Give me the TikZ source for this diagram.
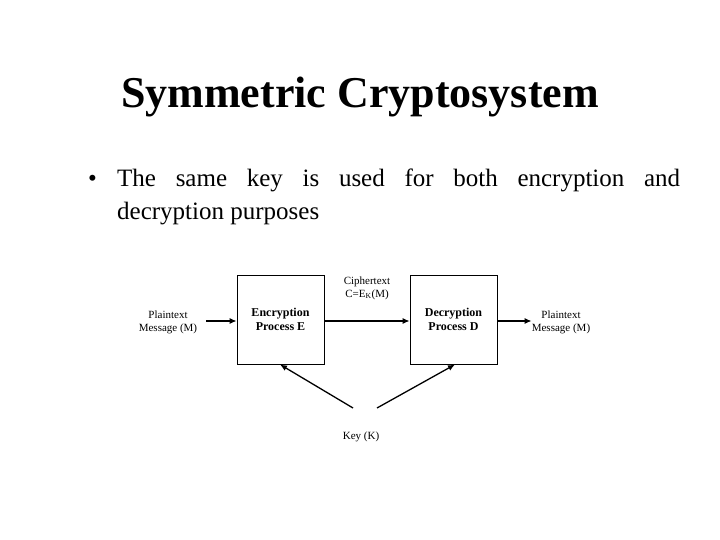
\documentclass[tikz,border=0pt]{standalone}
\usepackage{fontspec}
\setmainfont{Liberation Serif}
\usetikzlibrary{arrows.meta}
\begin{document}
\begin{tikzpicture}[x=1pt,y=-1pt,
  proc/.style={draw,line width=0.8pt,minimum width=87pt,minimum height=89pt,inner sep=0pt,align=center,font=\fontsize{12}{14}\selectfont\bfseries},
  lbl/.style={align=center,font=\fontsize{11}{13}\selectfont,inner sep=0pt},
  arr/.style={line width=1.3pt,-{Latex[length=7pt,width=6pt]}}]
\useasboundingbox[fill=white] (0,0) rectangle (720,540);
\node[font=\fontsize{44}{50}\selectfont\bfseries] (title) at (360,97) {Symmetric Cryptosystem};
\node[anchor=north west,inner sep=0pt,font=\fontsize{25}{33}\selectfont] (b1) at (88,169) {\parbox{592pt}{\hangindent=29pt\hangafter=1\noindent\makebox[29pt][l]{\textbullet}The same key is used for both encryption and\linebreak decryption purposes}};
\node[proc] (E) at (280.5,319.5) {Encryption\\Process E};
\node[proc] (D) at (453.5,319.5) {Decryption\\Process D};
\node[lbl] (pl) at (168,322) {Plaintext\\Message (M)};
\node[lbl] (pr) at (561,322) {Plaintext\\Message (M)};
\node[lbl] (ct) at (367,288) {Ciphertext\\C=E$_\mathrm{K}$(M)};
\node[lbl] (key) at (361,437) {Key (K)};
\coordinate (k1) at (353,408);
\coordinate (k2) at (377,408);
\coordinate (lin) at (206,321);
\draw[arr] (lin) -- (E.west|-lin);
\draw[arr] (E.east|-lin) -- (D.west|-lin);
\draw[arr] (D.east|-lin) -- (pr.west|-lin);
\draw[arr] (k1) -- (280,364.5);
\draw[arr] (k2) -- (455,364.5);
\end{tikzpicture}
\end{document}
